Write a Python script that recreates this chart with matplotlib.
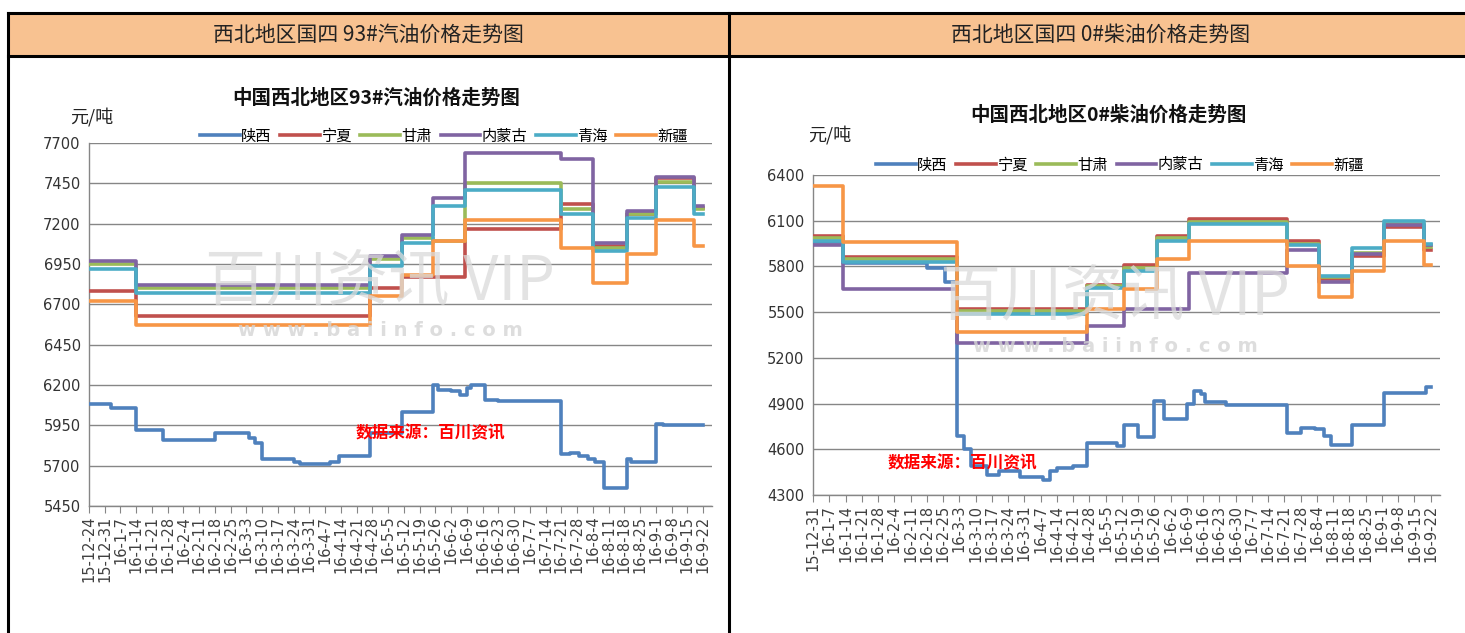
import numpy as np
import pandas as pd
import matplotlib
matplotlib.use("Agg")
import matplotlib.pyplot as plt
from matplotlib.lines import Line2D
from matplotlib.patches import Rectangle

plt.rcParams['font.family'] = ['Noto Sans CJK SC', 'DejaVu Sans']

# ---- data: 93# gasoline (change dates + price after change) ----
regions = ['陕西', '宁夏', '甘肃', '内蒙古', '青海', '新疆']
colors = ['#4F81BD', '#C0504D', '#9BBB59', '#8064A2', '#4BACC6', '#F79646']

gas_start, gas_end = '2015-12-24', '2016-09-22'
gas_dates = ['2015-12-24', '2016-01-14', '2016-04-27', '2016-05-11', '2016-05-25', '2016-06-08',
             '2016-07-21', '2016-08-04', '2016-08-19', '2016-09-01', '2016-09-18']
gas_ningxia = [6780, 6630, 6800, 6870, 6870, 7170, 7320, 7060, 7260, 7480, 7300]
gas_gansu = [6950, 6800, 6980, 7110, 7090, 7450, 7290, 7050, 7260, 7460, 7290]
gas_neimenggu = [6970, 6820, 7000, 7130, 7360, 7640, 7600, 7080, 7280, 7490, 7310]
gas_qinghai = [6920, 6770, 6940, 7080, 7310, 7410, 7260, 7030, 7235, 7430, 7260]
gas_xinjiang = [6720, 6570, 6750, 6880, 7090, 7220, 7050, 6830, 7010, 7220, 7060]

gas_shaanxi_dates = ['2015-12-24', '2016-01-03', '2016-01-14', '2016-01-26', '2016-02-18', '2016-03-04',
                     '2016-03-07', '2016-03-10', '2016-03-24', '2016-03-27', '2016-04-09', '2016-04-13',
                     '2016-04-27', '2016-05-11', '2016-05-25', '2016-05-27', '2016-06-02', '2016-06-06',
                     '2016-06-09', '2016-06-11', '2016-06-17', '2016-06-23', '2016-07-21', '2016-07-25',
                     '2016-07-29', '2016-08-02', '2016-08-05', '2016-08-09', '2016-08-19', '2016-08-21',
                     '2016-09-01', '2016-09-04']
gas_shaanxi = [6080, 6060, 5920, 5860, 5900, 5870, 5840, 5740, 5725, 5710, 5720, 5760,
               5900, 6030, 6200, 6170, 6160, 6140, 6180, 6200, 6110, 6100, 5770, 5780,
               5760, 5740, 5720, 5560, 5740, 5720, 5960, 5950]

# ---- data: 0# diesel ----
dsl_start, dsl_end = '2015-12-31', '2016-09-22'
dsl_dates = ['2015-12-31', '2016-01-13', '2016-03-02', '2016-04-27', '2016-05-13', '2016-05-27',
             '2016-06-10', '2016-07-22', '2016-08-05', '2016-08-19', '2016-09-02', '2016-09-19']
dsl_ningxia = [6000, 5860, 5520, 5680, 5810, 6000, 6110, 5970, 5720, 5870, 6060, 5910]
dsl_gansu = [5985, 5850, 5510, 5670, 5790, 5985, 6090, 5950, 5730, 5890, 6080, 5930]
dsl_neimenggu = [5940, 5650, 5300, 5410, 5520, 5520, 5760, 5910, 5700, 5880, 6070, 5940]
dsl_qinghai = [5970, 5830, 5490, 5660, 5770, 5970, 6080, 5940, 5740, 5920, 6100, 5950]
dsl_xinjiang = [6330, 5960, 5370, 5520, 5650, 5850, 5970, 5800, 5600, 5770, 5970, 5810]

dsl_shaanxi_dates = ['2015-12-31', '2016-01-13', '2016-02-18', '2016-02-26', '2016-03-02', '2016-03-05',
                     '2016-03-08', '2016-03-15', '2016-03-20', '2016-03-29', '2016-04-08', '2016-04-11',
                     '2016-04-14', '2016-04-21', '2016-04-27', '2016-05-10', '2016-05-13', '2016-05-19',
                     '2016-05-26', '2016-05-30', '2016-06-09', '2016-06-12', '2016-06-15', '2016-06-17',
                     '2016-06-26', '2016-07-22', '2016-07-28', '2016-08-03', '2016-08-07', '2016-08-10',
                     '2016-08-19', '2016-09-02', '2016-09-20']
dsl_shaanxi = [5960, 5820, 5790, 5700, 4690, 4600, 4490, 4430, 4460, 4420, 4400, 4460,
               4480, 4490, 4640, 4620, 4760, 4680, 4920, 4800, 4900, 4980, 4960, 4910,
               4890, 4710, 4740, 4730, 4690, 4630, 4760, 4970, 5010]

gas_yticks = [5450, 5700, 5950, 6200, 6450, 6700, 6950, 7200, 7450, 7700]
dsl_yticks = [4300, 4600, 4900, 5200, 5500, 5800, 6100, 6400]

W, H = 1465, 633
fig = plt.figure(figsize=(W / 100, H / 100), dpi=100)


def fx(px):
    return px / W


def fy(py):
    return 1 - py / H


# ---- table frame with orange header ----
fig.add_artist(Rectangle((fx(8), fy(56)), fx(1460), 43 / H, transform=fig.transFigure,
                         facecolor='#F8C291', edgecolor='none', zorder=0))
for x0, y0, x1, y1 in [(8, 13, 1465, 13), (8, 56, 1465, 56), (8, 13, 8, 633),
                       (729, 13, 729, 633)]:
    fig.add_artist(Line2D([fx(x0), fx(x1)], [fy(y0), fy(y1)], transform=fig.transFigure,
                          color='black', lw=2.2, zorder=5))
fig.text(fx(368), fy(35), '西北地区国四 93#汽油价格走势图', ha='center', va='center',
         fontsize=15, color='#222222')
fig.text(fx(1101), fy(35), '西北地区国四 0#柴油价格走势图', ha='center', va='center',
         fontsize=15, color='#222222')


def step_xy(dates, values, end):
    d = pd.to_datetime(list(dates) + [end])
    v = list(values) + [values[-1]]
    return d, v


def draw_chart(box, start, end, ylim, yticks, title, tpos, unit_pos, leg_pos,
               wm_pos, src_pos, shaanxi_d, shaanxi_v, group_d, group_vals):
    left, top, right, bottom = box
    ax = fig.add_axes([fx(left), fy(bottom), fx(right) - fx(left), (bottom - top) / H])
    t0 = pd.Timestamp(start)
    t_end = pd.Timestamp(end)

    def days(d):
        return (pd.to_datetime(d) - t0).days

    series = [(shaanxi_d, shaanxi_v)] + [(group_d, v) for v in group_vals]
    handles = []
    for (d, v), c, name in zip(series, colors, regions):
        xd, yv = step_xy(d, v, end)
        h, = ax.plot(days(xd), yv, drawstyle='steps-post', color=c, lw=2.6,
                     solid_joinstyle='round', label=name, zorder=3)
        handles.append(h)

    span = (t_end - t0).days
    ax.set_xlim(0, span + 4)
    ax.set_ylim(*ylim)
    tick_days = np.arange(0, span + 1, 7)
    tick_dates = [t0 + pd.Timedelta(days=int(k)) for k in tick_days]
    ax.set_xticks(tick_days)
    ax.set_xticklabels([f'{d.year % 100}-{d.month}-{d.day}' for d in tick_dates],
                       rotation=90, fontsize=10.5, color='#404040', family='DejaVu Sans')
    ax.set_yticks(yticks)
    ax.set_yticklabels([str(v) for v in yticks], fontsize=10.5, color='#333333',
                       family='DejaVu Sans')
    ax.tick_params(axis='x', length=5, color='#868686', pad=2)
    ax.tick_params(axis='y', length=0, pad=6)
    ax.grid(axis='y', color='#868686', lw=1)
    ax.set_axisbelow(True)
    for s in ['top', 'right']:
        ax.spines[s].set_visible(False)
    for s in ['left', 'bottom']:
        ax.spines[s].set_color('#868686')
        ax.spines[s].set_linewidth(1)

    fig.text(fx(tpos[0]), fy(tpos[1]), title, ha='center', va='center', fontsize=14,
             fontweight='bold', color='#111111')
    fig.text(fx(unit_pos[0]), fy(unit_pos[1]), '元/吨', ha='left', va='center',
             fontsize=13, color='#222222')
    fig.legend(handles=handles, loc='center', bbox_to_anchor=(fx(leg_pos[0]), fy(leg_pos[1])),
               ncol=6, frameon=False, fontsize=11, handlelength=2.6, handletextpad=0.1,
               columnspacing=0.55, borderpad=0)
    # watermark
    fig.text(fx(wm_pos[0]), fy(wm_pos[1]), '百川资讯 VIP', ha='center', va='center',
             fontsize=44, color='#DADADA', alpha=0.75, zorder=10)
    fig.text(fx(wm_pos[0]), fy(wm_pos[1] + 48), 'w w w . b a i i n f o . c o m', ha='center',
             va='center', fontsize=14, fontweight='bold', color='#D5D5D5', alpha=0.8,
             family='DejaVu Sans', zorder=10)
    fig.text(fx(src_pos[0]), fy(src_pos[1]), '数据来源：百川资讯', ha='center', va='center',
             fontsize=12, fontweight='bold', style='italic', color='#FF0000', zorder=11)
    return ax


draw_chart((89, 143, 712, 506), gas_start, gas_end, (5450, 7700), gas_yticks,
           '中国西北地区93#汽油价格走势图', (376, 98), (70, 117), (444, 136),
           (380, 283), (430, 433),
           gas_shaanxi_dates, gas_shaanxi, gas_dates,
           [gas_ningxia, gas_gansu, gas_neimenggu, gas_qinghai, gas_xinjiang])

draw_chart((813, 175, 1440, 495), dsl_start, dsl_end, (4300, 6400), dsl_yticks,
           '中国西北地区0#柴油价格走势图', (1108, 115), (808, 135), (1120, 165),
           (1115, 298), (962, 463),
           dsl_shaanxi_dates, dsl_shaanxi, dsl_dates,
           [dsl_ningxia, dsl_gansu, dsl_neimenggu, dsl_qinghai, dsl_xinjiang])

fig.savefig('out.png', dpi=100)
